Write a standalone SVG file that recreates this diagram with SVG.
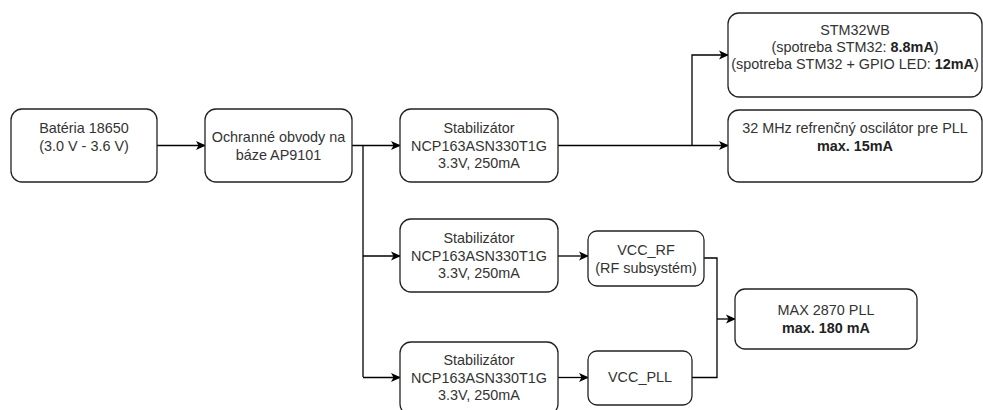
<svg xmlns="http://www.w3.org/2000/svg" width="983" height="410" viewBox="0 0 983 410">
<defs>
<marker id="arr" viewBox="0 0 10 10" refX="9" refY="5" markerWidth="10" markerHeight="10" markerUnits="userSpaceOnUse" orient="auto">
<path d="M0,0.5 L10,5 L0,9.5 L2.5,5 Z" fill="#000"/>
</marker>
<style>
.box{fill:#fff;stroke:#222;stroke-width:1.3}
.t{font-family:"Liberation Sans",Arial,sans-serif;font-size:14.4px;fill:#333;text-anchor:middle}
.b{font-weight:bold;fill:#222}
.c{fill:none;stroke:#000;stroke-width:1.3}
.a{marker-end:url(#arr)}
</style>
</defs>
<rect width="983" height="410" fill="#fff"/>
<g id="connectors">
<path class="c a" d="M157,145.5 H205"/>
<path class="c a" d="M352,145.5 H400"/>
<path class="c" d="M363,145.5 V377"/>
<path class="c a" d="M363,256 H400"/>
<path class="c a" d="M363,377.5 H400"/>
<path class="c a" d="M558,145.5 H728"/>
<path class="c a" d="M692,145.5 V55 H728"/>
<path class="c a" d="M558,256 H588"/>
<path class="c a" d="M558,377.5 H588"/>
<path class="c" d="M704,258 H717 V377.5 H692"/>
<path class="c a" d="M717,319 H735"/>
</g>
<g id="battery">
<rect class="box" x="11" y="109" width="146" height="73" rx="11"/>
<text class="t" x="84" y="133">Batéria 18650</text>
<text class="t" x="84" y="151">(3.0 V - 3.6 V)</text>
</g>
<g id="protection">
<rect class="box" x="205" y="109" width="147" height="73" rx="11"/>
<text class="t" x="278.5" y="142">Ochranné obvody na</text>
<text class="t" x="278.5" y="160">báze AP9101</text>
</g>
<g id="stab1">
<rect class="box" x="400" y="109" width="158" height="73" rx="11"/>
<text class="t" x="479" y="133">Stabilizátor</text>
<text class="t" x="479" y="150.5">NCP163ASN330T1G</text>
<text class="t" x="479" y="168">3.3V, 250mA</text>
</g>
<g id="stab2">
<rect class="box" x="400" y="219" width="158" height="73" rx="11"/>
<text class="t" x="479" y="243">Stabilizátor</text>
<text class="t" x="479" y="260.5">NCP163ASN330T1G</text>
<text class="t" x="479" y="278">3.3V, 250mA</text>
</g>
<g id="stab3">
<rect class="box" x="400" y="342" width="158" height="73" rx="11"/>
<text class="t" x="479" y="365">Stabilizátor</text>
<text class="t" x="479" y="382.5">NCP163ASN330T1G</text>
<text class="t" x="479" y="400">3.3V, 250mA</text>
</g>
<g id="stm32wb">
<rect class="box" x="728" y="13" width="254" height="84" rx="11"/>
<text class="t" x="855" y="35">STM32WB</text>
<text class="t" x="855" y="52">(spotreba STM32: <tspan class="b">8.8mA</tspan>)</text>
<text class="t" x="855" y="69">(spotreba STM32 + GPIO LED: <tspan class="b">12mA</tspan>)</text>
</g>
<g id="oscillator">
<rect class="box" x="728" y="110" width="254" height="72" rx="11"/>
<text class="t" x="855" y="133">32 MHz refrenčný oscilátor pre PLL</text>
<text class="t b" x="855" y="150.5">max. 15mA</text>
</g>
<g id="vcc_rf">
<rect class="box" x="588" y="231" width="116" height="55" rx="9"/>
<text class="t" x="646" y="255">VCC_RF</text>
<text class="t" x="646" y="273">(RF subsystém)</text>
</g>
<g id="vcc_pll">
<rect class="box" x="588" y="351" width="104" height="54" rx="9"/>
<text class="t" x="640" y="382">VCC_PLL</text>
</g>
<g id="max2870">
<rect class="box" x="735" y="289" width="182" height="60" rx="10"/>
<text class="t" x="826" y="315">MAX 2870 PLL</text>
<text class="t b" x="826" y="333">max. 180 mA</text>
</g>
</svg>
